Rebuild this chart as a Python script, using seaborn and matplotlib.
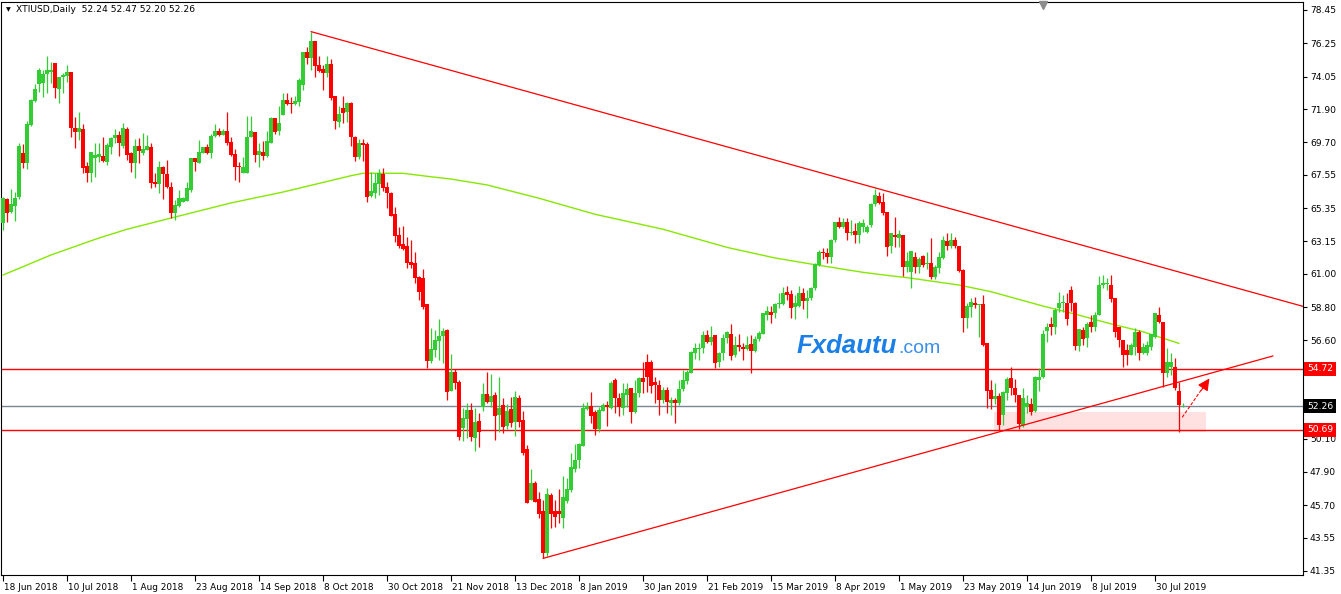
import matplotlib
matplotlib.use("Agg")
import matplotlib.pyplot as plt
import matplotlib.transforms as mtransforms
from matplotlib.patches import Rectangle
import numpy as np
import pandas as pd
import seaborn as sns

# ---------------- data ----------------
opens = [
    64.34, 65.93, 65.11, 65.49, 66.11, 68.97, 68.35, 70.85, 72.46, 73.54,
    73.65, 74.20, 74.37, 74.92, 73.25, 74.04, 74.11, 74.33, 70.67, 70.40,
    70.58, 68.16, 67.65, 68.64, 68.71, 68.80, 68.42, 69.37, 70.01, 70.18,
    69.46, 70.58, 68.97, 68.31, 69.48, 68.97, 69.19, 69.41, 67.10, 66.94,
    68.05, 67.60, 66.77, 65.00, 65.49, 65.77, 65.84, 66.55, 68.69, 68.35,
    69.02, 69.41, 68.97, 70.12, 70.45, 70.18, 70.47, 69.70, 68.93, 68.13,
    67.69, 67.65, 70.03, 70.40, 68.86, 69.08, 68.80, 69.63, 71.29, 70.45,
    71.51, 72.50, 72.32, 72.24, 72.39, 73.49, 75.65, 75.26, 76.40, 74.81,
    74.57, 74.26, 74.86, 72.79, 71.07, 71.99, 71.73, 72.28, 70.07, 68.75,
    69.68, 69.59, 66.15, 66.37, 66.94, 67.58, 66.77, 66.37, 64.96, 63.57,
    62.97, 62.84, 61.80, 61.69, 60.81, 60.75, 59.00, 55.25, 55.96, 56.58,
    56.89, 57.28, 53.27, 54.53, 53.84, 50.78, 51.40, 51.99, 50.12, 51.26,
    52.21, 53.05, 52.52, 52.99, 51.66, 52.33, 50.94, 52.04, 51.22, 52.77,
    51.33, 49.39, 46.04, 47.14, 46.08, 45.31, 42.51, 46.37, 45.31, 45.31,
    44.83, 46.00, 46.70, 48.07, 48.69, 49.61, 52.04, 52.28, 51.88, 50.72,
    51.95, 52.33, 52.10, 53.98, 52.76, 52.15, 53.01, 53.43, 51.88, 53.14,
    54.09, 55.19, 55.19, 53.87, 53.65, 52.65, 53.32, 52.48, 52.65, 52.43,
    53.36, 53.92, 54.46, 55.74, 56.00, 56.07, 56.95, 56.51, 56.95, 55.19,
    55.74, 56.73, 57.02, 55.63, 56.29, 56.14, 56.00, 56.36, 55.92, 56.67,
    57.02, 58.28, 58.50, 58.43, 59.00, 59.00, 59.82, 59.66, 58.83, 58.87,
    59.75, 59.22, 59.38, 60.04, 61.58, 62.47, 62.40, 62.14, 63.24, 64.45,
    64.12, 64.45, 63.68, 63.85, 63.57, 64.12, 63.79, 64.23, 65.62, 66.15,
    65.77, 65.11, 62.84, 63.57, 63.35, 63.57, 61.47, 61.14, 62.14, 61.43,
    62.18, 61.65, 61.69, 60.77, 61.36, 62.03, 63.19, 62.84, 63.24, 62.84,
    61.25, 58.06, 58.83, 59.09, 58.94, 59.00, 56.45, 53.32, 52.70, 52.92,
    51.66, 53.09, 54.09, 53.43, 52.98, 51.00, 52.21, 52.39, 51.95, 53.98,
    54.15, 57.24, 57.68, 57.50, 58.72, 59.05, 59.09, 59.93, 59.05, 56.22,
    57.28, 56.73, 57.83, 57.50, 58.28, 60.26, 60.33, 60.26, 59.38, 57.50,
    56.62, 55.96, 55.63, 56.18, 57.17, 55.74, 55.74, 56.18, 56.84, 58.28,
    57.83, 54.42, 54.81, 54.86, 53.27, 52.24,
]
highs = [
    66.11, 66.00, 66.59, 66.44, 69.63, 69.59, 71.11, 72.54, 73.54, 74.59,
    74.48, 75.41, 75.04, 74.97, 74.04, 74.26, 74.81, 74.33, 71.35, 71.73,
    70.91, 68.42, 69.08, 69.63, 69.63, 70.07, 69.68, 70.03, 70.60, 70.45,
    70.96, 70.74, 69.08, 69.90, 69.96, 70.29, 70.16, 69.68, 67.65, 68.49,
    68.13, 68.53, 67.10, 65.89, 66.55, 66.10, 67.10, 68.69, 68.69, 69.85,
    69.41, 69.59, 70.25, 70.91, 70.63, 70.56, 71.73, 70.07, 69.24, 68.42,
    68.75, 71.44, 71.44, 70.40, 69.63, 69.79, 70.45, 71.35, 71.29, 72.10,
    72.98, 72.98, 72.72, 72.76, 73.93, 75.70, 76.03, 77.02, 76.40, 75.41,
    74.81, 75.41, 75.19, 72.79, 72.10, 72.76, 72.39, 72.35, 70.10, 69.90,
    69.90, 69.72, 67.76, 67.65, 67.91, 67.98, 67.10, 66.40, 65.40, 64.12,
    64.16, 63.41, 63.24, 62.44, 60.86, 61.30, 59.03, 57.39, 57.28, 57.99,
    57.39, 57.33, 55.70, 54.68, 53.98, 52.10, 52.48, 52.43, 52.10, 51.77,
    53.76, 54.49, 54.38, 53.21, 54.20, 52.77, 52.39, 52.83, 53.25, 52.99,
    51.95, 49.68, 48.07, 47.32, 46.57, 46.04, 46.86, 46.48, 46.04, 46.75,
    47.63, 47.47, 49.17, 49.75, 49.79, 52.48, 52.55, 53.21, 51.99, 52.17,
    52.48, 52.61, 53.94, 54.09, 53.09, 53.76, 53.76, 53.43, 53.98, 54.20,
    55.19, 55.70, 55.30, 54.20, 53.98, 53.54, 53.54, 52.83, 52.76, 53.98,
    54.64, 54.64, 55.92, 56.40, 56.40, 57.24, 57.28, 57.55, 56.95, 55.85,
    57.02, 57.24, 57.68, 56.89, 57.02, 56.40, 56.89, 56.95, 56.89, 57.24,
    58.43, 58.87, 58.87, 59.09, 59.71, 60.15, 60.20, 59.93, 59.60, 60.20,
    60.04, 59.93, 60.11, 61.69, 62.58, 62.69, 62.69, 63.28, 64.45, 64.78,
    64.67, 64.67, 64.56, 64.34, 64.52, 64.60, 64.23, 65.66, 66.59, 66.43,
    66.33, 65.11, 63.72, 64.74, 63.90, 63.57, 62.47, 62.53, 62.47, 62.14,
    62.25, 62.47, 63.35, 61.58, 62.47, 63.50, 63.72, 63.72, 63.46, 62.84,
    61.30, 59.05, 59.38, 59.49, 59.00, 59.60, 56.45, 53.98, 53.76, 53.09,
    53.27, 54.20, 54.81, 54.02, 52.98, 53.43, 52.98, 52.76, 54.24, 54.75,
    57.28, 57.77, 58.12, 58.72, 59.82, 59.60, 59.71, 60.20, 59.16, 57.32,
    57.50, 57.83, 58.28, 58.50, 60.86, 60.92, 60.70, 60.92, 59.38, 57.50,
    56.62, 56.36, 56.40, 57.39, 57.28, 56.40, 56.58, 57.02, 58.39, 58.83,
    57.83, 56.07, 55.74, 55.41, 53.87, 52.47,
]
lows = [
    63.90, 64.45, 65.05, 64.52, 65.93, 67.98, 67.91, 70.78, 72.39, 73.05,
    72.72, 72.94, 73.60, 72.65, 72.28, 72.98, 73.71, 70.07, 69.30, 69.85,
    67.65, 67.10, 67.10, 67.43, 68.42, 68.42, 68.20, 68.93, 69.63, 68.80,
    69.30, 68.53, 67.76, 67.36, 68.35, 68.86, 69.19, 66.66, 66.72, 66.33,
    65.93, 66.70, 64.67, 64.56, 65.44, 65.74, 65.84, 66.44, 67.82, 68.31,
    69.02, 68.93, 68.64, 70.07, 70.12, 70.18, 69.52, 68.80, 67.21, 67.10,
    67.65, 67.65, 70.03, 68.42, 68.05, 68.53, 68.75, 69.63, 70.25, 70.18,
    71.51, 72.17, 71.66, 72.17, 72.10, 73.16, 74.86, 74.48, 74.04, 74.37,
    73.16, 74.04, 72.50, 70.60, 70.74, 70.96, 71.07, 69.48, 68.49, 68.57,
    68.49, 65.77, 66.06, 66.04, 66.21, 66.50, 65.38, 64.82, 63.10, 62.69,
    62.58, 61.36, 61.36, 60.41, 59.27, 58.67, 54.75, 55.08, 55.52, 55.30,
    55.12, 52.65, 53.27, 53.36, 50.01, 49.96, 50.12, 49.96, 49.30, 49.57,
    51.95, 52.44, 52.21, 50.01, 50.56, 50.50, 50.72, 50.89, 50.28, 50.89,
    49.02, 45.82, 46.04, 45.93, 44.83, 42.18, 42.34, 44.17, 44.23, 44.54,
    44.17, 45.82, 46.59, 47.91, 48.14, 49.61, 51.99, 51.11, 50.34, 50.56,
    51.95, 50.93, 52.04, 51.77, 51.60, 51.66, 52.21, 51.15, 51.77, 52.87,
    53.09, 53.21, 53.14, 52.48, 51.66, 52.48, 51.77, 51.66, 51.15, 52.32,
    53.27, 53.72, 54.42, 55.34, 55.30, 55.74, 56.40, 56.29, 54.75, 54.81,
    55.30, 56.40, 55.30, 55.52, 55.92, 55.30, 55.96, 54.42, 55.85, 56.58,
    57.02, 57.94, 57.72, 58.06, 58.72, 58.94, 59.27, 58.06, 57.99, 58.83,
    58.65, 58.06, 59.27, 59.93, 61.52, 61.96, 61.74, 61.69, 63.13, 64.01,
    64.01, 63.24, 63.57, 63.02, 63.02, 63.79, 63.68, 64.12, 65.49, 65.62,
    64.89, 62.18, 62.40, 62.80, 62.80, 60.86, 61.14, 60.04, 61.03, 61.08,
    61.43, 61.30, 60.64, 60.64, 61.08, 61.96, 62.58, 62.69, 62.69, 61.14,
    57.17, 57.39, 58.12, 58.72, 56.80, 56.22, 52.10, 52.04, 52.39, 50.63,
    51.00, 52.65, 52.98, 52.54, 50.72, 50.89, 51.81, 51.66, 51.88, 53.27,
    54.09, 56.51, 56.95, 57.02, 58.50, 58.50, 57.61, 58.56, 55.96, 55.92,
    56.29, 56.18, 57.17, 57.24, 58.28, 60.04, 59.93, 59.16, 56.84, 56.18,
    54.81, 54.97, 55.63, 55.63, 55.30, 55.70, 55.63, 55.96, 56.73, 57.72,
    53.54, 54.20, 54.31, 53.32, 50.52, 52.20,
]
closes = [
    66.00, 65.05, 65.62, 66.04, 69.46, 68.35, 70.89, 72.50, 73.20, 74.48,
    74.22, 74.48, 74.48, 73.27, 74.04, 74.15, 74.37, 70.67, 70.40, 70.67,
    68.02, 67.65, 69.08, 68.86, 68.95, 68.46, 69.52, 70.01, 70.18, 69.63,
    70.67, 68.86, 68.31, 69.46, 69.15, 69.28, 69.46, 67.03, 66.94, 68.09,
    67.60, 66.72, 65.00, 65.55, 66.04, 66.04, 66.66, 68.69, 68.42, 69.06,
    69.37, 68.97, 70.14, 70.45, 70.16, 70.47, 69.63, 68.86, 68.09, 68.09,
    68.09, 70.07, 70.47, 68.86, 69.13, 68.80, 69.79, 71.33, 70.40, 71.00,
    72.50, 72.24, 72.24, 72.43, 73.82, 75.70, 75.26, 76.40, 74.77, 74.44,
    74.31, 74.86, 72.61, 71.11, 71.57, 71.66, 72.28, 70.07, 68.71, 69.63,
    69.54, 66.10, 66.48, 66.98, 67.65, 66.66, 66.37, 64.85, 63.50, 62.84,
    62.64, 61.74, 61.58, 60.75, 59.82, 58.83, 55.25, 56.00, 56.62, 56.89,
    57.24, 53.20, 54.53, 53.76, 50.23, 51.44, 51.99, 50.18, 51.22, 50.56,
    53.05, 52.52, 52.92, 51.60, 52.15, 50.89, 51.95, 51.16, 52.83, 51.22,
    49.17, 45.87, 47.14, 45.93, 45.11, 42.51, 46.44, 45.11, 44.94, 45.11,
    46.26, 46.75, 48.20, 48.69, 49.75, 52.10, 52.28, 51.60, 50.72, 51.99,
    52.33, 52.21, 53.80, 52.76, 52.17, 53.09, 53.36, 51.88, 53.14, 54.09,
    53.87, 54.20, 53.58, 53.65, 52.65, 53.32, 52.54, 52.65, 52.43, 53.36,
    53.98, 54.53, 55.85, 56.07, 56.07, 56.95, 56.51, 56.84, 55.12, 55.78,
    56.73, 57.13, 55.56, 56.29, 56.14, 56.00, 56.29, 55.92, 56.67, 57.06,
    58.39, 58.54, 58.28, 59.00, 59.09, 59.71, 59.60, 58.72, 59.09, 59.75,
    59.22, 59.38, 60.04, 61.65, 62.47, 62.36, 62.09, 63.24, 64.45, 64.12,
    64.45, 63.68, 63.79, 63.57, 64.38, 64.38, 64.12, 65.62, 66.21, 65.71,
    65.05, 62.80, 63.68, 63.41, 63.63, 61.47, 61.87, 62.53, 61.43, 61.96,
    61.58, 61.74, 60.81, 61.43, 62.14, 63.24, 62.84, 63.24, 62.84, 61.21,
    58.06, 58.87, 59.16, 58.94, 59.00, 56.29, 53.27, 52.70, 52.92, 51.00,
    53.21, 54.02, 53.43, 52.98, 51.07, 52.76, 52.48, 51.88, 54.15, 54.20,
    57.02, 57.46, 57.50, 58.61, 59.09, 59.16, 57.99, 59.05, 56.22, 57.32,
    56.67, 57.68, 57.50, 58.28, 60.26, 60.37, 60.40, 59.31, 57.17, 56.62,
    55.63, 55.63, 56.29, 57.17, 55.74, 56.18, 56.29, 57.02, 58.39, 57.83,
    54.42, 55.19, 55.19, 53.43, 52.32, 52.26,
]

# moving average read at anchor candles
ma_index = [0, 12, 24, 31, 42, 57, 70, 87, 90, 100, 107, 112, 121, 134, 148,
            165, 181, 193, 202, 215, 221, 226, 239, 247, 260, 268, 276, 285, 294]
ma_value = [60.92, 62.25, 63.37, 63.95, 64.69, 65.69, 66.41, 67.49, 67.65, 67.65,
            67.42, 67.27, 66.88, 66.00, 64.94, 63.95, 62.75, 62.05, 61.65, 61.10,
            60.90, 60.75, 60.26, 59.82, 58.87, 58.34, 57.76, 57.17, 56.40]

date_labels = ["18 Jun 2018", "10 Jul 2018", "1 Aug 2018", "23 Aug 2018",
               "14 Sep 2018", "8 Oct 2018", "30 Oct 2018", "21 Nov 2018",
               "13 Dec 2018", "8 Jan 2019", "30 Jan 2019", "21 Feb 2019",
               "15 Mar 2019", "8 Apr 2019", "1 May 2019", "23 May 2019",
               "14 Jun 2019", "8 Jul 2019", "30 Jul 2019"]
price_ticks = [41.35, 43.55, 45.70, 47.90, 50.10, 52.25, 54.45, 56.60, 58.80,
               61.00, 63.15, 65.35, 67.55, 69.70, 71.90, 74.05, 76.25, 78.45]
hidden_ticks = [52.25, 54.45]   # covered by the price boxes in the reference

resistance_level = 54.72
support_level = 50.69
bid_level = 52.26

# ---------------- drawing ----------------
sns.set_style("white")
plt.rcParams["font.family"] = ["DejaVu Sans"]

W, H = 1341, 594
fig = plt.figure(figsize=(W / 100, H / 100), dpi=100)
ax = fig.add_axes([1 / W, 19 / H, 1302 / W, 573 / H])

df = pd.DataFrame({"open": opens, "high": highs, "low": lows, "close": closes})
df["idx"] = np.arange(len(df))
up = df["close"] >= df["open"]
GREEN, RED = "#32CD32", "#FF0000"
colors = np.where(up, GREEN, RED)

# moving average
ma_df = pd.DataFrame({"idx": ma_index, "ma": ma_value})
sns.lineplot(data=ma_df, x="idx", y="ma", ax=ax, color="#86E800", lw=1.0,
             sort=True, zorder=1.5, legend=False)

# pink zone
ax.add_patch(Rectangle((247.75, 50.56), 53.0, 1.32, facecolor="#FFE1E1",
                       edgecolor="none", zorder=1))

# horizontal levels
ax.axhline(resistance_level, color=RED, lw=1.0, zorder=1.6)
ax.axhline(support_level, color=RED, lw=1.0, zorder=1.6)
ax.axhline(bid_level, color="#7A8694", lw=1.0, zorder=1.6)

# candles
ax.vlines(df["idx"], df["low"], df["high"], colors=colors, lw=0.9, zorder=2.9)
body_low = np.minimum(df["open"], df["close"])
body_h = np.maximum(np.abs(df["close"] - df["open"]), 0.05)
ax.bar(df["idx"], body_h, bottom=body_low, width=0.78, color=colors,
       linewidth=0, zorder=3)

# trend lines
ax.plot([77, 325], [77.02, 58.85], color=RED, lw=0.9, zorder=4)
ax.plot([135, 317.5], [42.18, 55.57], color=RED, lw=0.9, zorder=4)

# arrow
ax.plot([294.8, 300.3], [51.51, 53.6], color=RED, lw=0.8,
        ls=(0, (3, 1.5)), zorder=4)
ax.annotate("", xy=(301.6, 54.08), xytext=(299.6, 53.3),
            arrowprops=dict(arrowstyle="-|>", color=RED, lw=0.8,
                            mutation_scale=18, shrinkA=0, shrinkB=0),
            zorder=4)

ax.set_xlim(-0.5, 325)
ax.set_ylim(41.083, 78.979)

# axes styling
for sp in ax.spines.values():
    sp.set_color("black")
    sp.set_linewidth(0.8)
    sp.set_visible(True)

ax.yaxis.tick_right()
ax.set_yticks(price_ticks)
ax.set_yticklabels(["" if v in hidden_ticks else f"{v:.2f}" for v in price_ticks])
ax.tick_params(axis="y", which="both", right=True, left=False, direction="out",
               length=3, width=0.8, pad=2, labelsize=6.6, colors="black")
ax.set_xticks(np.arange(len(date_labels)) * 16)
ax.set_xticklabels(date_labels)
ax.tick_params(axis="x", bottom=True, direction="out", length=4, width=0.8,
               pad=2, labelsize=6.4, colors="black")
offset = mtransforms.ScaledTranslation(1 / 100, 0, fig.dpi_scale_trans)
for lab in ax.get_xticklabels():
    lab.set_horizontalalignment("left")
    lab.set_transform(lab.get_transform() + offset)
ax.set_xlabel("")
ax.set_ylabel("")
ax.grid(False)

# price boxes on the right axis
btrans = mtransforms.blended_transform_factory(ax.transAxes, ax.transData)
for val, bg in [(resistance_level, RED), (bid_level, "black"), (support_level, RED)]:
    ax.text(1 + 4 / 1302, val, f"{val:.2f}", transform=btrans, ha="left",
            va="center", fontsize=6.6, color="white", clip_on=False, zorder=6,
            bbox=dict(boxstyle="square,pad=0.28", fc=bg, ec="none"))

# chart-shift marker
ax.plot([0.8003], [1 - 3 / 573], marker="v", color="#8C8C8C", ms=6,
        transform=ax.transAxes, clip_on=False, zorder=6)

# header
fig.text(6 / W, 1 - 10 / H, "▼", fontsize=4.5, va="center", ha="left", color="black")
fig.text(16 / W, 1 - 10 / H, "XTIUSD,Daily  52.24 52.47 52.20 52.26",
         fontsize=6.6, va="center", ha="left", color="black")

# watermark
fig.text(797 / W, 1 - 352.7 / H, "Fxdautu", fontsize=18.5, fontweight="bold",
         fontstyle="italic", family=["Liberation Sans", "DejaVu Sans"],
         color="#1A7FE6", va="baseline", ha="left")
fig.text(898 / W, 1 - 352.7 / H, ".com", fontsize=14,
         family=["Liberation Sans", "DejaVu Sans"],
         color="#3A8FEA", va="baseline", ha="left")

fig.savefig("out.png", dpi=100)
